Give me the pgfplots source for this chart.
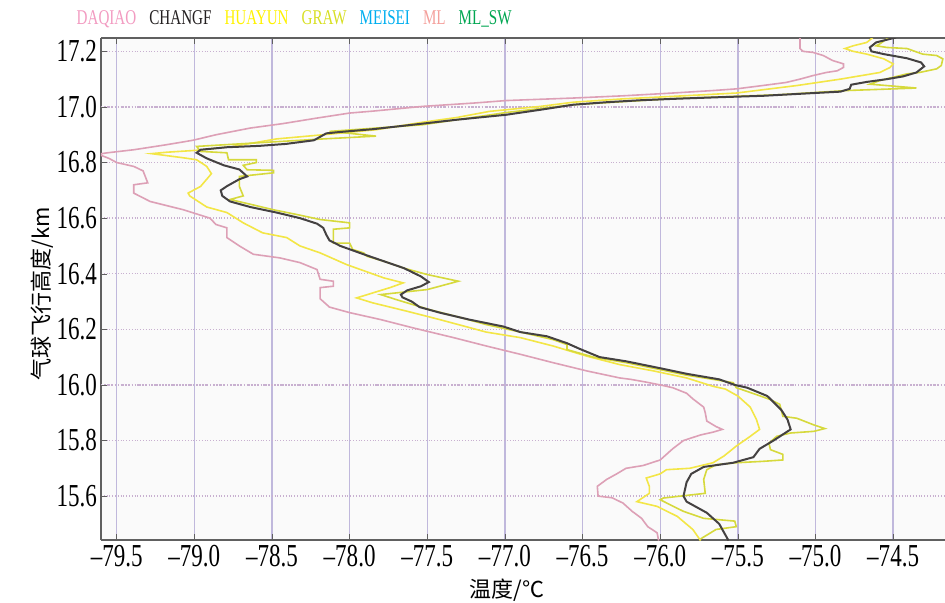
\documentclass[border=0pt]{standalone}
\usepackage{pgfplots}
\pgfplotsset{compat=1.18}
\usepackage{fontspec}
\setmainfont{Liberation Serif}[FakeStretch=0.72]
\newfontfamily\cjk{Noto Sans CJK SC}
\definecolor{cDaqiao}{HTML}{F29BC1}
\definecolor{cDaqiaoL}{HTML}{DDA0B6}
\definecolor{cChangf}{HTML}{231F20}
\definecolor{cHuayun}{HTML}{FFF200}
\definecolor{cHuayunL}{HTML}{F3E646}
\definecolor{cGraw}{HTML}{D7DF23}
\definecolor{cGrawL}{HTML}{D6D93C}
\definecolor{cMeisei}{HTML}{00AEEF}
\definecolor{cMl}{HTML}{F4A09C}
\definecolor{cMlsw}{HTML}{00A651}
\definecolor{gridv}{HTML}{C0B8DC}
\definecolor{gridh}{HTML}{C8B0D0}
\definecolor{spine}{HTML}{606060}
\begin{document}
\begin{tikzpicture}
\begin{axis}[name=ax,
  scale only axis, width=422pt, height=251pt,
  xmin=-79.601, xmax=-74.166, ymin=15.442, ymax=17.248,
  axis x line*=box, axis y line*=left,
  axis line style={spine, line width=0.8pt},
  axis background/.style={fill=black!2},
  xtick={-79.5,-79,-78.5,-78,-77.5,-77,-76.5,-76,-75.5,-75,-74.5},
  xticklabels={–79.5,–79.0,–78.5,–78.0,–77.5,–77.0,–76.5,–76.0,–75.5,–75.0,–74.5},
  ytick={15.6,15.8,16.0,16.2,16.4,16.6,16.8,17.0,17.2},
  yticklabels={15.6,15.8,16.0,16.2,16.4,16.6,16.8,17.0,17.2},
  tick label style={font=\fontsize{16}{18}\selectfont},
  xticklabel style={yshift=1pt},
  yticklabel style={xshift=1.5pt},
  tick align=inside, major tick length=3pt, tick style={spine},
  grid=major,
  x grid style={color=gridv, line width=0.7pt},
  y grid style={color=gridh, densely dotted, line width=0.7pt},
  extra y ticks={16.0,17.0}, extra y tick labels={},
  extra y tick style={major grid style={solid, color=gridv, line width=0.7pt}},
  xlabel={\cjk\fontsize{11}{13}\selectfont 温度/℃},
  ylabel={\cjk\fontsize{11}{13}\selectfont 气球飞行高度/km},
  x label style={at={(axis description cs:0.481,0)}, anchor=center, yshift=-25pt},
  y label style={at={(axis description cs:0,0.49)}, anchor=center, yshift=29.5pt},
  legend image code/.code={},
  legend columns=-1,
  legend style={at={(axis description cs:-0.034,1)}, anchor=south west, yshift=3pt,
    draw=none, fill=none, inner sep=0pt, font=\fontsize{10.5}{12}\selectfont,
    /tikz/every even column/.append style={column sep=2.5pt}},
]
\addlegendimage{}\addlegendentry{\textcolor{cDaqiao}{DAQIAO}}
\addlegendimage{}\addlegendentry{\textcolor{cChangf}{CHANGF}}
\addlegendimage{}\addlegendentry{\textcolor{cHuayun}{HUAYUN}}
\addlegendimage{}\addlegendentry{\textcolor{cGraw}{GRAW}}
\addlegendimage{}\addlegendentry{\textcolor{cMeisei}{MEISEI}}
\addlegendimage{}\addlegendentry{\textcolor{cMl}{ML}}
\addlegendimage{}\addlegendentry{\textcolor{cMlsw}{ML\_SW}}
% DAQIAO
\addplot[forget plot, color=cDaqiaoL, line width=0.8pt] coordinates {
(-76.01,15.44)(-76.02,15.468)(-76.08,15.49)(-76.12,15.52)(-76.18,15.545)(-76.24,15.575)
(-76.31,15.594)(-76.40,15.60)(-76.405,15.635)(-76.345,15.66)(-76.28,15.68)(-76.22,15.70)
(-76.11,15.71)(-76.00,15.73)(-75.96,15.75)(-75.92,15.77)(-75.85,15.80)(-75.74,15.82)
(-75.66,15.83)(-75.60,15.84)(-75.64,15.85)(-75.70,15.87)(-75.71,15.90)(-75.72,15.92)
(-75.79,15.95)(-75.83,15.97)(-75.92,15.99)(-76.00,16.00)(-76.09,16.01)(-76.19,16.02)
(-76.26,16.025)(-76.47,16.05)(-76.69,16.08)(-76.90,16.11)(-77.12,16.14)(-77.33,16.17)
(-77.59,16.205)(-77.80,16.235)(-78.00,16.26)(-78.13,16.28)(-78.19,16.31)(-78.19,16.35)
(-78.105,16.355)(-78.105,16.373)(-78.19,16.38)(-78.21,16.415)(-78.32,16.44)(-78.45,16.457)
(-78.62,16.47)(-78.71,16.50)(-78.79,16.53)(-78.79,16.565)(-78.86,16.577)(-78.90,16.60)
(-79.07,16.63)(-79.285,16.66)(-79.39,16.69)(-79.39,16.72)(-79.30,16.727)(-79.33,16.77)
(-79.39,16.786)(-79.50,16.80)(-79.55,16.815)(-79.62,16.83)(-79.56,16.835)(-79.39,16.846)
(-79.18,16.864)(-79.01,16.88)(-78.86,16.90)(-78.64,16.924)(-78.43,16.94)(-78.21,16.96)
(-78.00,16.978)(-77.85,16.985)(-77.53,17.002)(-77.20,17.014)(-76.99,17.023)(-76.56,17.032)
(-76.24,17.04)(-75.92,17.05)(-75.66,17.059)(-75.51,17.065)(-75.34,17.077)(-75.19,17.088)
(-75.10,17.10)(-75.015,17.113)(-74.93,17.124)(-74.86,17.13)(-74.82,17.142)(-74.82,17.155)
(-74.89,17.167)(-74.95,17.185)(-75.015,17.196)(-75.08,17.20)(-75.10,17.21)(-75.10,17.25)
};
% HUAYUN
\addplot[forget plot, color=cHuayunL, line width=0.8pt] coordinates {
(-75.74,15.44)(-75.79,15.48)(-75.89,15.527)(-76.02,15.563)(-76.15,15.58)(-76.07,15.61)
(-76.07,15.635)(-76.09,15.665)(-76.00,15.68)(-75.96,15.695)(-75.81,15.70)(-75.66,15.72)
(-75.59,15.744)(-75.51,15.78)(-75.42,15.815)(-75.36,15.84)(-75.38,15.875)(-75.42,15.92)
(-75.50,15.96)(-75.58,15.985)(-75.66,15.995)(-75.83,16.025)(-76.04,16.05)(-76.26,16.073)
(-76.47,16.103)(-76.69,16.14)(-76.90,16.17)(-77.12,16.19)(-77.42,16.235)(-77.63,16.265)
(-77.85,16.295)(-77.955,16.313)(-77.74,16.35)(-77.655,16.367)(-77.78,16.385)(-78.02,16.433)
(-78.19,16.475)(-78.32,16.50)(-78.405,16.53)(-78.56,16.547)(-78.685,16.583)(-78.79,16.62)
(-78.92,16.64)(-79.03,16.68)(-79.04,16.69)(-78.96,16.714)(-78.92,16.74)(-78.89,16.76)
(-78.92,16.786)(-78.985,16.81)(-79.07,16.817)(-79.18,16.825)(-79.275,16.832)(-79.18,16.837)
(-78.985,16.844)(-78.75,16.858)(-78.47,16.885)(-78.17,16.90)(-77.83,16.918)(-77.53,16.945)
(-77.31,16.962)(-77.10,16.984)(-76.77,17.002)(-76.56,17.017)(-76.24,17.029)(-75.92,17.038)
(-75.51,17.05)(-75.12,17.077)(-74.84,17.10)(-74.585,17.124)(-74.52,17.142)(-74.50,17.155)
(-74.56,17.173)(-74.67,17.19)(-74.757,17.20)(-74.81,17.21)(-74.757,17.22)(-74.67,17.232)
(-74.63,17.25)
};
% GRAW
\addplot[forget plot, color=cGrawL, line width=0.8pt] coordinates {
(-75.74,15.446)(-75.64,15.48)(-75.51,15.49)(-75.52,15.51)(-75.72,15.52)(-75.85,15.545)
(-75.94,15.57)(-76.00,15.587)(-75.98,15.593)(-75.79,15.605)(-75.71,15.61)(-75.72,15.66)
(-75.70,15.695)(-75.64,15.713)(-75.51,15.72)(-75.34,15.725)(-75.21,15.73)(-75.21,15.75)
(-75.29,15.767)(-75.30,15.79)(-75.25,15.815)(-75.16,15.827)(-75.01,15.833)(-74.94,15.843)
(-75.015,15.857)(-75.12,15.88)(-75.21,15.887)(-75.23,15.93)(-75.29,15.947)(-75.38,15.965)
(-75.51,15.99)(-75.53,16.008)(-75.66,16.02)(-75.83,16.035)(-76.00,16.055)(-76.22,16.08)
(-76.43,16.10)(-76.60,16.127)(-76.60,16.145)(-76.69,16.163)(-76.90,16.19)(-77.12,16.217)
(-77.27,16.24)(-77.48,16.27)(-77.70,16.307)(-77.80,16.325)(-77.50,16.343)(-77.30,16.373)
(-77.50,16.397)(-77.65,16.42)(-77.78,16.445)(-77.89,16.463)(-77.91,16.475)(-77.98,16.487)
(-78.00,16.51)(-78.105,16.51)(-78.105,16.56)(-78.00,16.565)(-78.00,16.583)(-78.19,16.595)
(-78.34,16.613)(-78.49,16.63)(-78.64,16.65)(-78.77,16.667)(-78.685,16.68)(-78.71,16.714)
(-78.71,16.75)(-78.49,16.763)(-78.49,16.772)(-78.66,16.774)(-78.685,16.79)(-78.60,16.80)
(-78.60,16.81)(-78.78,16.81)(-78.79,16.835)(-78.96,16.84)(-78.985,16.858)(-78.47,16.875)
(-78.17,16.885)(-77.83,16.895)(-78.00,16.905)(-78.13,16.912)(-77.53,16.936)(-76.99,16.98)
(-76.56,17.008)(-75.92,17.03)(-75.23,17.044)(-74.80,17.059)(-74.35,17.068)(-74.65,17.082)
(-74.585,17.095)(-74.41,17.119)(-74.33,17.124)(-74.22,17.137)(-74.19,17.149)(-74.18,17.173)
(-74.22,17.185)(-74.31,17.19)(-74.41,17.21)(-74.54,17.214)(-74.61,17.22)(-74.585,17.227)
(-74.54,17.245)(-74.52,17.25)
};
% CHANGF
\addplot[forget plot, color=cChangf!85, line width=1pt] coordinates {
(-75.56,15.44)(-75.62,15.50)(-75.70,15.54)(-75.83,15.58)(-75.85,15.60)(-75.83,15.65)
(-75.80,15.68)(-75.72,15.705)(-75.53,15.72)(-75.40,15.74)(-75.36,15.77)(-75.27,15.80)
(-75.16,15.84)(-75.18,15.875)(-75.22,15.91)(-75.31,15.96)(-75.44,15.99)(-75.52,16.00)
(-75.62,16.02)(-75.83,16.04)(-76.00,16.06)(-76.22,16.085)(-76.39,16.10)(-76.52,16.13)
(-76.60,16.15)(-76.73,16.175)(-76.90,16.19)(-77.01,16.21)(-77.23,16.235)(-77.42,16.26)
(-77.55,16.28)(-77.60,16.30)(-77.66,16.315)(-77.67,16.325)(-77.63,16.34)(-77.54,16.355)
(-77.49,16.37)(-77.54,16.39)(-77.65,16.42)(-77.78,16.445)(-77.91,16.47)(-78.06,16.50)
(-78.13,16.52)(-78.15,16.54)(-78.17,16.565)(-78.21,16.58)(-78.32,16.60)(-78.47,16.62)
(-78.64,16.64)(-78.77,16.66)(-78.82,16.68)(-78.83,16.70)(-78.79,16.715)(-78.71,16.74)
(-78.66,16.75)(-78.71,16.775)(-78.81,16.79)(-78.92,16.815)(-78.985,16.835)(-78.96,16.846)
(-78.79,16.855)(-78.58,16.86)(-78.41,16.867)(-78.23,16.88)(-78.15,16.905)(-78.06,16.91)
(-77.85,16.92)(-77.53,16.94)(-77.31,16.954)(-76.99,16.972)(-76.77,16.99)(-76.56,17.008)
(-76.345,17.017)(-76.13,17.024)(-75.92,17.029)(-75.62,17.035)(-75.34,17.04)(-75.01,17.05)
(-74.84,17.055)(-74.78,17.065)(-74.77,17.08)(-74.67,17.09)(-74.54,17.10)(-74.435,17.11)
(-74.35,17.124)(-74.30,17.146)(-74.32,17.16)(-74.41,17.175)(-74.56,17.19)(-74.64,17.20)
(-74.65,17.214)(-74.61,17.232)(-74.54,17.242)(-74.48,17.25)
};
\end{axis}
\pgfresetboundingbox
\path[use as bounding box] ([xshift=-50.5pt,yshift=-31pt]ax.south west) rectangle ([yshift=19pt]ax.north east);
\end{tikzpicture}
\end{document}
